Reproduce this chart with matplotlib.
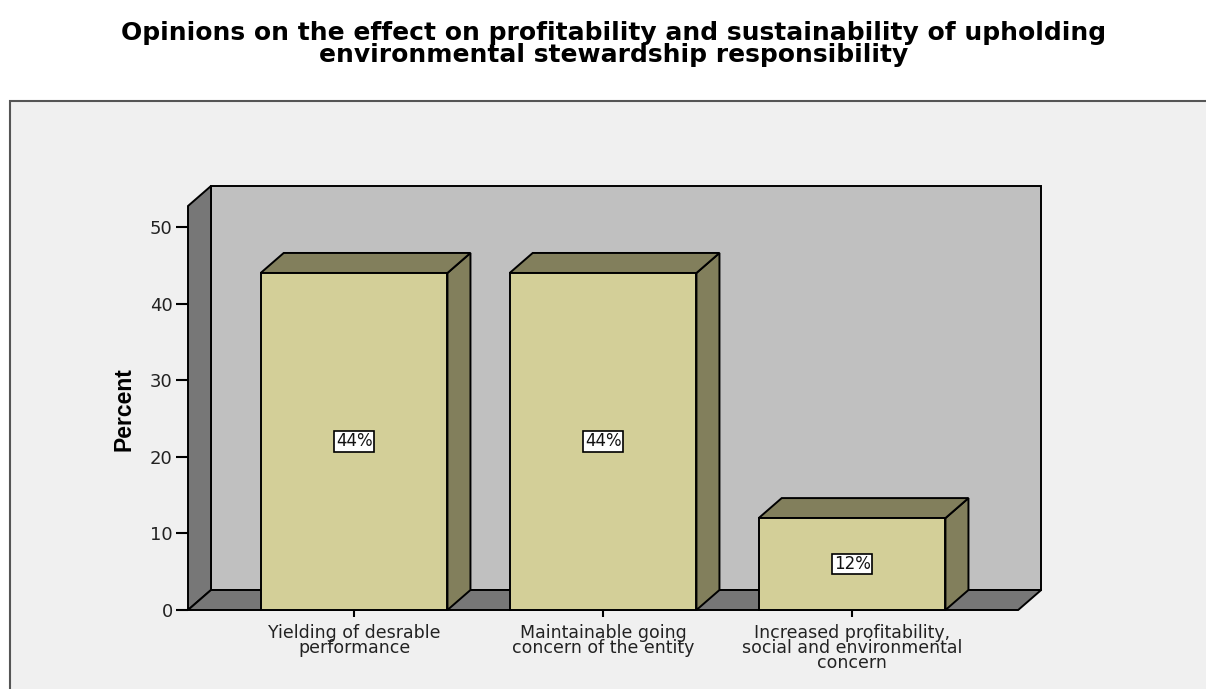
import matplotlib
matplotlib.use("Agg")
import matplotlib.pyplot as plt
from matplotlib.patches import Rectangle, Polygon

# ---- data ----
categories = ["Yielding of desrable\nperformance",
              "Maintainable going\nconcern of the entity",
              "Increased profitability,\nsocial and environmental\nconcern"]
values = [44, 44, 12]
value_labels = ["44%", "44%", "12%"]
yticks = [0, 10, 20, 30, 40, 50]
title = ("Opinions on the effect on profitability and sustainability of upholding\n"
         "environmental stewardship responsibility")

# ---- style ----
W, H, DPI = 1206, 689, 100
front_c = "#d3cf98"
dark_c = "#827f5c"
wall_c = "#c0c0c0"
side_c = "#777777"
frame_bg = "#f0f0f0"
bar_w = 0.75
FONT = "DejaVu Sans"

fig = plt.figure(figsize=(W / DPI, H / DPI), dpi=DPI)
fig.patch.set_facecolor("white")

# outer frame
frame = Rectangle((10 / W, -0.05), 1.2, (689 - 101) / H + 0.05, transform=fig.transFigure,
                  facecolor=frame_bg, edgecolor="#555555", linewidth=1.5, zorder=-5)
fig.patches.append(frame)

# axes: front plane from x=188..1042 px, y=610..186 px
ax = fig.add_axes([188 / W, (H - 610) / H, (1042 - 188) / W, (610 - 186) / H])
ax.set_facecolor("none")
x0, x1 = -0.667, 2.667
px_per_x = 249.0
px_per_y = 7.66
xmax = x0 + (1042 - 188) / px_per_x
ymax = (610 - 186) / px_per_y
ax.set_xlim(x0, xmax)
ax.set_ylim(0, ymax)
for s in ax.spines.values():
    s.set_visible(False)

dx = 23 / px_per_x
dy = 20 / px_per_y
ytop = ymax - dy
lw = 1.4

# back wall
ax.add_patch(Rectangle((x0 + dx, dy), x1 - x0, ymax - dy, facecolor=wall_c,
                       edgecolor="black", linewidth=lw, clip_on=False, zorder=1))
# left wall
ax.add_patch(Polygon([(x0, 0), (x0, ytop), (x0 + dx, ymax), (x0 + dx, dy)],
                     closed=True, facecolor=side_c, edgecolor="black", linewidth=lw,
                     clip_on=False, zorder=2))
# floor
ax.add_patch(Polygon([(x0, 0), (x1, 0), (x1 + dx, dy), (x0 + dx, dy)],
                     closed=True, facecolor=side_c, edgecolor="black", linewidth=lw,
                     clip_on=False, zorder=2))

for i, (v, lab) in enumerate(zip(values, value_labels)):
    l, r = i - bar_w / 2, i + bar_w / 2
    ax.add_patch(Polygon([(r, 0), (r + dx, dy), (r + dx, v + dy), (r, v)], closed=True,
                         facecolor=dark_c, edgecolor="black", linewidth=lw, zorder=3, clip_on=False))
    ax.add_patch(Polygon([(l, v), (r, v), (r + dx, v + dy), (l + dx, v + dy)], closed=True,
                         facecolor=dark_c, edgecolor="black", linewidth=lw, zorder=3, clip_on=False))
    ax.add_patch(Rectangle((l, 0), bar_w, v, facecolor=front_c, edgecolor="black",
                           linewidth=lw, zorder=4, clip_on=False))
    ax.text(i, v / 2, lab, ha="center", va="center", fontsize=12, family=FONT,
            color="#111111", zorder=5,
            bbox=dict(boxstyle="square,pad=0.08", facecolor="white",
                      edgecolor="black", linewidth=1.2))

ax.set_yticks(yticks)
ax.set_yticklabels([str(t) for t in yticks], family=FONT, fontsize=13, color="#222222")
ax.set_xticks(range(len(categories)))
ax.set_xticklabels(categories, family=FONT, fontsize=12.5, color="#222222",
                   linespacing=0.8)
ax.tick_params(axis="y", direction="out", length=9, width=1.5, pad=2)
ax.tick_params(axis="x", direction="out", length=5, width=1.5, pad=5)

ax.set_ylabel("Percent", family=["Liberation Sans Narrow", "Liberation Sans"],
              fontweight="bold", fontsize=16.5)
ax.yaxis.set_label_coords((135 - 188) / (1042 - 188), (610 - 409) / (610 - 186))

fig.text(614 / W, 1 - 44 / H, title, ha="center", va="center", fontsize=18,
         fontweight="bold", family=FONT, linespacing=0.88)

fig.savefig("out.png", dpi=DPI)
